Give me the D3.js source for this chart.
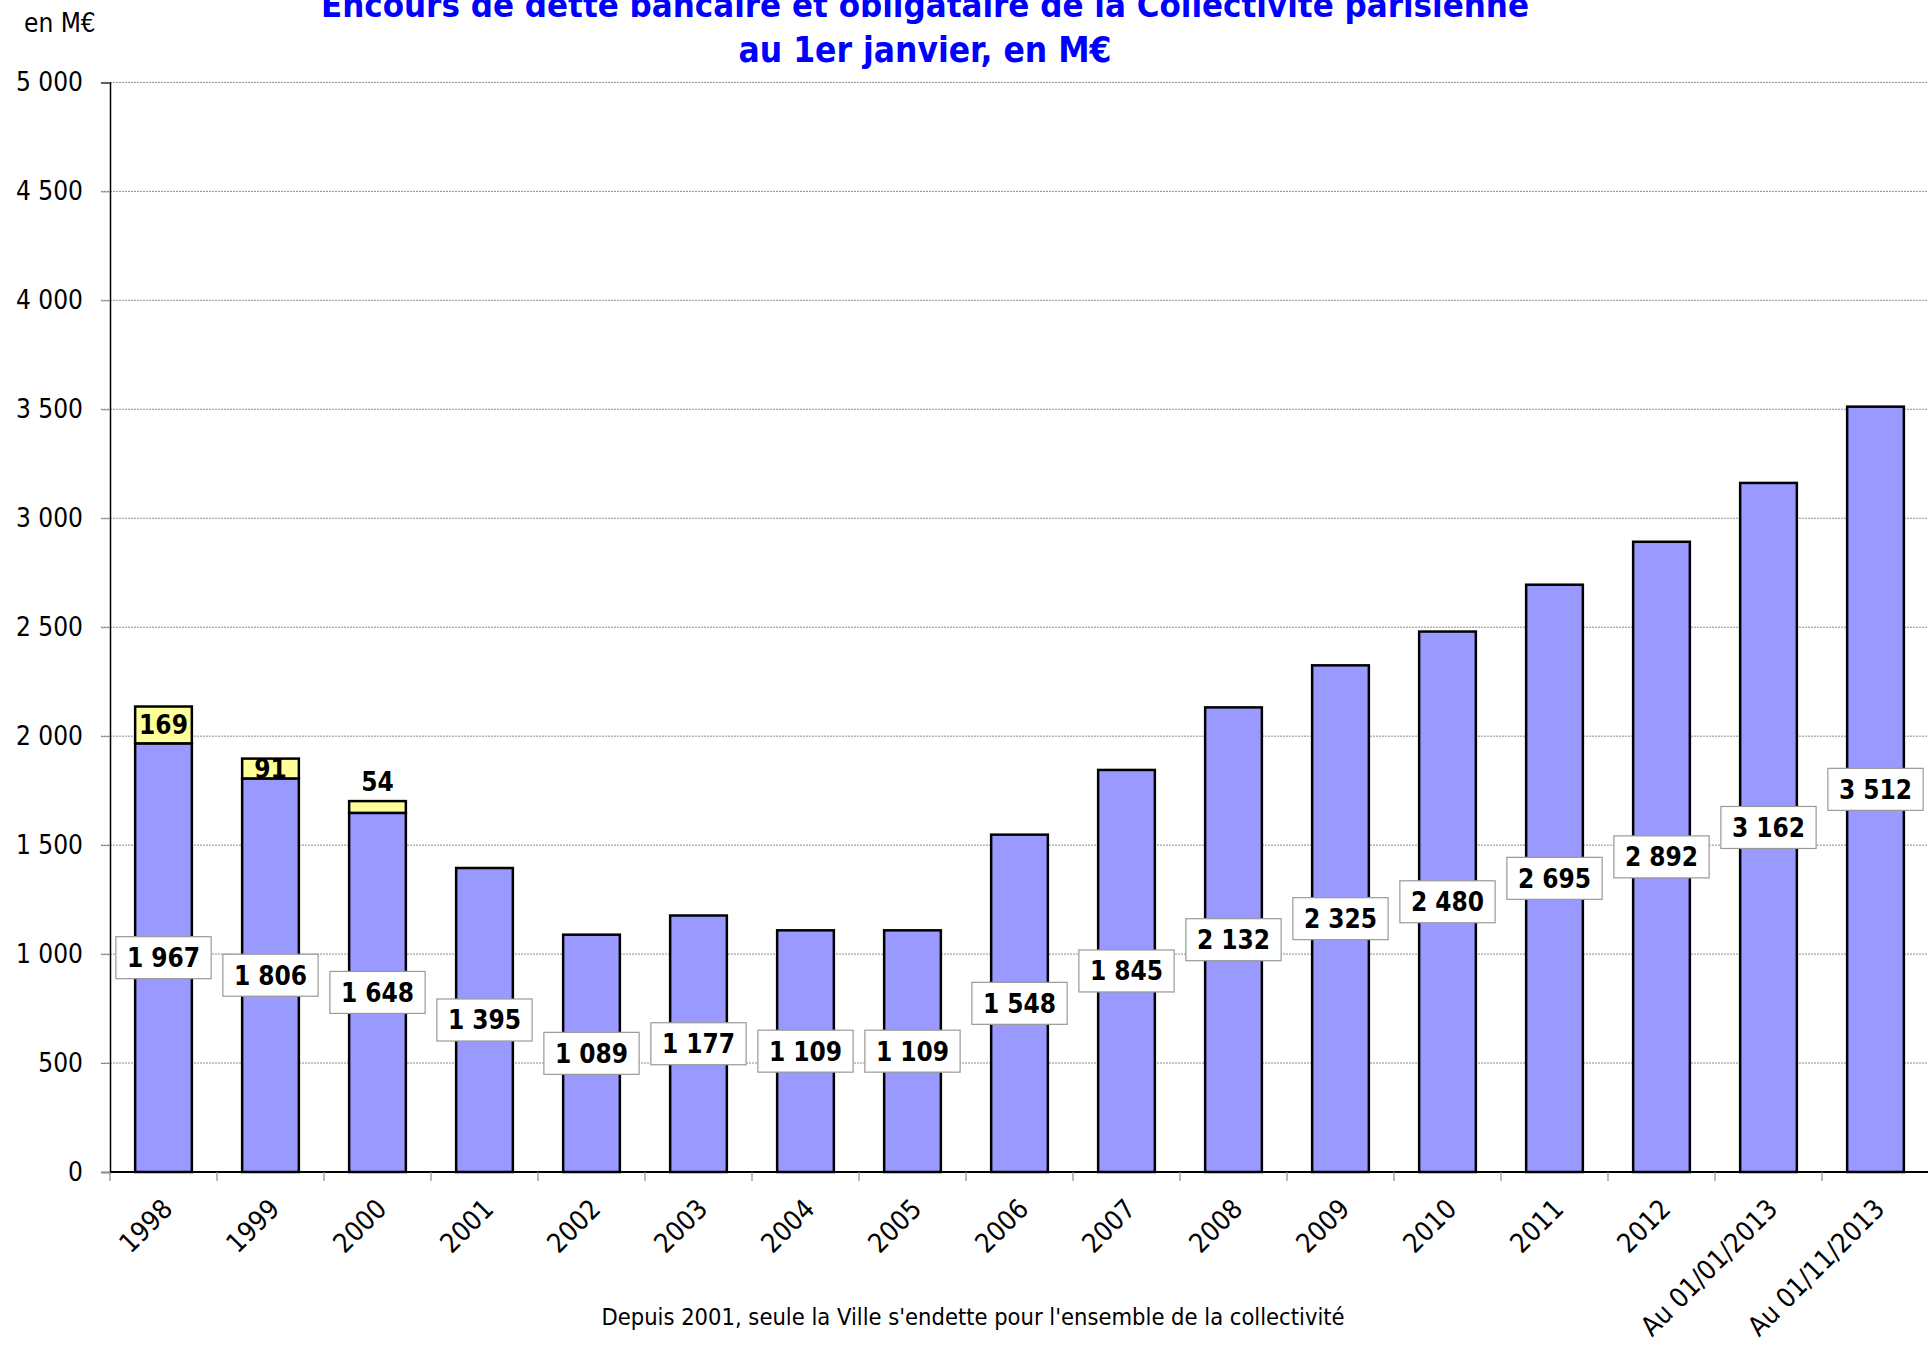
<!DOCTYPE html>
<html>
<head>
<meta charset="utf-8">
<script src="https://cdn.jsdelivr.net/npm/d3@7"></script>
<style>
  html, body { margin: 0; padding: 0; background: #fff; }
  svg { display: block; }
  text { font-family: "DejaVu Sans Condensed", "DejaVu Sans", sans-serif; font-stretch: condensed; }
</style>
</head>
<body>
<svg id="chart" width="1928" height="1353"></svg>
<script>
// ---- data ----
const categories = ["1998","1999","2000","2001","2002","2003","2004","2005","2006","2007","2008","2009","2010","2011","2012","Au 01/01/2013","Au 01/11/2013"];
const villeDebt = [1967,1806,1648,1395,1089,1177,1109,1109,1548,1845,2132,2325,2480,2695,2892,3162,3512];
const departementDebt = [169,91,54,0,0,0,0,0,0,0,0,0,0,0,0,0,0];
const yTicks = [0,500,1000,1500,2000,2500,3000,3500,4000,4500,5000];
const titleLines = ["Encours de dette bancaire et obligataire de la Collectivité parisienne", "au 1er janvier, en M€"];
const unitLabel = "en M€";
const footnote = "Depuis 2001, seule la Ville s'endette pour l'ensemble de la collectivité";

// ---- layout ----
const W = 1928, H = 1353;
const mLeft = 110, mRight = 1929, mTop = 82.4, mBottom = 1172;
const svg = d3.select("#chart");

const x = d3.scaleBand().domain(categories).range([mLeft, mRight]).paddingInner(0.47).paddingOuter(0.235);
const y = d3.scaleLinear().domain([0, 5000]).range([mBottom, mTop]);
const fmt = v => d3.format(",")(v).replace(/,/g, " ");

// gridlines
svg.append("g").selectAll("line").data(yTicks.filter(t => t > 0)).join("line")
  .attr("x1", mLeft - 9).attr("x2", W)
  .attr("y1", d => y(d)).attr("y2", d => y(d))
  .attr("stroke", "#8c8c8c").attr("stroke-width", 1).attr("stroke-dasharray", "2,1");

// y axis
const yAxis = svg.append("g").attr("transform", `translate(${mLeft},0)`)
  .call(d3.axisLeft(y).tickValues(yTicks).tickFormat(fmt).tickSize(9).tickPadding(18));
yAxis.select(".domain").attr("stroke", "#000").attr("stroke-width", 1.5);
yAxis.selectAll(".tick line").attr("stroke", "#8c8c8c");
yAxis.selectAll(".tick text").attr("font-size", 26).attr("fill", "#000")
  .style("font-family", '"DejaVu Sans Condensed", "DejaVu Sans", sans-serif');

// bars
const rows = categories.map((c, i) => ({ c, v: villeDebt[i], d: departementDebt[i] }));
const bars = svg.append("g");
bars.selectAll("rect.v").data(rows).join("rect").attr("class", "v")
  .attr("x", d => x(d.c)).attr("width", x.bandwidth())
  .attr("y", d => y(d.v)).attr("height", d => y(0) - y(d.v))
  .attr("fill", "#9999ff").attr("stroke", "#000").attr("stroke-width", 2.5);
bars.selectAll("rect.d").data(rows.filter(r => r.d > 0)).join("rect").attr("class", "d")
  .attr("x", d => x(d.c)).attr("width", x.bandwidth())
  .attr("y", d => y(d.v + d.d)).attr("height", d => y(d.v) - y(d.v + d.d))
  .attr("fill", "#ffff99").attr("stroke", "#000").attr("stroke-width", 2.5);

// x axis
const xAxisG = svg.append("g");
xAxisG.append("line").attr("x1", mLeft).attr("x2", W).attr("y1", mBottom).attr("y2", mBottom)
  .attr("stroke", "#000").attr("stroke-width", 2);
const step = x.step();
xAxisG.selectAll("line.tk").data(d3.range(categories.length + 1)).join("line").attr("class", "tk")
  .attr("x1", i => mLeft + i * step).attr("x2", i => mLeft + i * step)
  .attr("y1", mBottom).attr("y2", mBottom + 9).attr("stroke", "#8c8c8c").attr("stroke-width", 1.2);
xAxisG.selectAll("text").data(categories).join("text")
  .attr("transform", d => `translate(${x(d) + x.bandwidth() / 2 + 4},${mBottom + 32}) rotate(-45)`)
  .attr("text-anchor", "end").attr("dy", "0.35em")
  .attr("font-size", 27).attr("fill", "#000").text(d => d);

// value labels (boxed) for Ville debt
const lab = svg.append("g");
rows.forEach(r => {
  const cx = x(r.c) + x.bandwidth() / 2;
  const cy = y(r.v / 2);
  const g = lab.append("g");
  const rect = g.append("rect");
  const t = g.append("text").attr("x", cx).attr("y", cy).attr("dy", "0.36em")
    .attr("text-anchor", "middle").attr("font-size", 26).attr("font-weight", "bold")
    .attr("fill", "#000").text(fmt(r.v));
  const bb = t.node().getBBox();
  const bw = bb.width + 22, bh = 42;
  rect.attr("x", cx - bw / 2).attr("y", cy - bh / 2).attr("width", bw).attr("height", bh)
    .attr("fill", "#fff").attr("stroke", "#999").attr("stroke-width", 1.2);
});

// labels for Département debt
rows.filter(r => r.d > 0).forEach(r => {
  const cx = x(r.c) + x.bandwidth() / 2;
  const segH = y(r.v) - y(r.v + r.d);
  const inside = segH > 15;
  const ty = inside ? y(r.v + r.d / 2) : y(r.v + r.d) - 19.5;
  lab.append("text").attr("x", cx).attr("y", ty).attr("dy", "0.36em")
    .attr("text-anchor", "middle").attr("font-size", 26).attr("font-weight", "bold")
    .attr("fill", "#000").text(fmt(r.d));
});

// title
svg.append("text").attr("x", 925).attr("y", 17).attr("text-anchor", "middle")
  .attr("font-size", 34.5).attr("font-weight", "bold").attr("fill", "#0000ff").text(titleLines[0]);
svg.append("text").attr("x", 925).attr("y", 62).attr("text-anchor", "middle")
  .attr("font-size", 35).attr("font-weight", "bold").attr("fill", "#0000ff").text(titleLines[1]);

// unit
svg.append("text").attr("x", 24).attr("y", 32).attr("font-size", 26).attr("fill", "#000").text(unitLabel);

// footnote
svg.append("text").attr("x", 973).attr("y", 1325).attr("text-anchor", "middle")
  .attr("font-size", 23.5).attr("fill", "#000").text(footnote);
</script>
</body>
</html>
